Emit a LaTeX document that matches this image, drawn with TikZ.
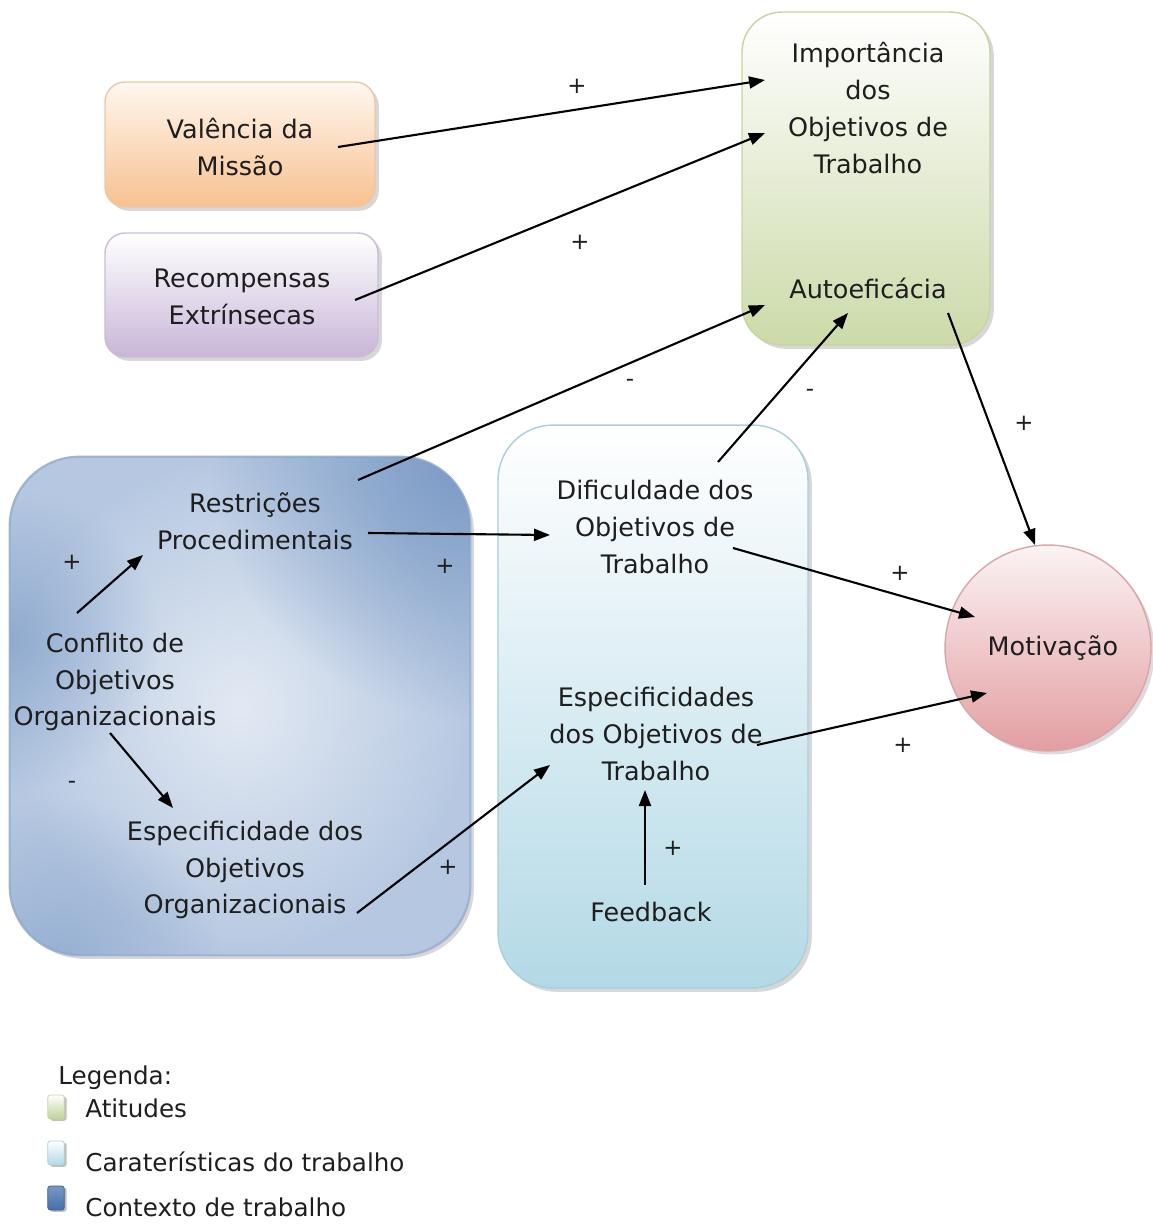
\documentclass[tikz,border=0pt]{standalone}
\usepackage{fontspec}
\setmainfont{DejaVu Sans}
\usetikzlibrary{arrows.meta,shadows,calc,fadings}

\definecolor{txtc}{HTML}{1E1E1E}
\definecolor{orgtop}{HTML}{FFF7F0}
\definecolor{orgbot}{HTML}{F7C18F}
\definecolor{orgline}{HTML}{EDC7A5}
\definecolor{purtop}{HTML}{FFFFFF}
\definecolor{purbot}{HTML}{C8B6D8}
\definecolor{purline}{HTML}{C9BDD6}
\definecolor{grntop}{HTML}{FFFFFF}
\definecolor{grnbot}{HTML}{CCDAA9}
\definecolor{grnline}{HTML}{C6D4A2}
\definecolor{ltbtop}{HTML}{FFFFFF}
\definecolor{ltbbot}{HTML}{B3D9E6}
\definecolor{ltbline}{HTML}{A9CFDA}
\definecolor{dkbin}{HTML}{E2E9F3}
\definecolor{dkbmid}{HTML}{B6C8E1}
\definecolor{dkbout}{HTML}{7898C4}
\definecolor{dkbline}{HTML}{9EB4D2}
\definecolor{pnktop}{HTML}{FBF3F3}
\definecolor{pnkbot}{HTML}{E39EA2}
\definecolor{pnkline}{HTML}{D9A5A8}
\definecolor{legdark}{HTML}{4470AC}
\definecolor{leggrn}{HTML}{BFD293}

\tikzfading[name=softspot,inner color=transparent!0,outer color=transparent!100]

\begin{document}
\begin{tikzpicture}[x=0.02cm,y=-0.02cm,
  txt/.style={align=center,inner sep=0pt,text=txtc,
    font=\fontsize{14.5}{21}\selectfont},
  sign/.style={inner sep=0pt,text=txtc,font=\fontsize{13}{15}\selectfont},
  arr/.style={line width=1.2pt,draw=black,
    -{Triangle[length=3.2mm,width=2.4mm]}},
  shade box/.style={rectangle,line width=0.8pt,
    drop shadow={shadow xshift=2.2pt,shadow yshift=-2.2pt,
      opacity=0.35,fill=black!45}},
  legicon/.style={rectangle,rounded corners=1.5pt,minimum width=0.33cm,
    minimum height=0.48cm,inner sep=0pt,line width=0.4pt,
    drop shadow={shadow xshift=1.4pt,shadow yshift=-1pt,opacity=0.45,fill=black!55}},
  legtxt/.style={anchor=west,inner sep=0pt,text=txtc,
    font=\fontsize{14}{17}\selectfont}]

\useasboundingbox (0,0) rectangle (1153,1231);

% coloured boxes
\node[shade box,rounded corners=0.4cm,draw=orgline,top color=orgtop,
  bottom color=orgbot,minimum width=5.4cm,minimum height=2.5cm]
  (valbox) at (240,144.5) {};
\node[shade box,rounded corners=0.4cm,draw=purline,top color=purtop,
  bottom color=purbot,minimum width=5.46cm,minimum height=2.48cm]
  (recbox) at (241.5,295) {};
\node[shade box,rounded corners=0.8cm,draw=grnline,top color=grntop,
  bottom color=grnbot,minimum width=4.96cm,minimum height=6.66cm]
  (attbox) at (866,178.5) {};
\node[shade box,rounded corners=1.4cm,draw=dkbline,inner color=dkbin,
  outer color=dkbmid,minimum width=9.2cm,minimum height=9.96cm]
  (ctxbox) at (240,706) {};
% darker tint towards the upper right and left edge of the context box
\begin{scope}
  \clip[rounded corners=1.4cm] (ctxbox.south west) rectangle (ctxbox.north east);
  \fill[dkbout,path fading=softspot] (470,457) circle (260);
  \fill[dkbout,path fading=softspot,opacity=0.6] (10,640) circle (150);
  \fill[dkbout,path fading=softspot,opacity=0.5] (60,960) circle (160);
\end{scope}
\draw[dkbline,line width=0.8pt,rounded corners=1.4cm]
  (ctxbox.south west) rectangle (ctxbox.north east);
\node[shade box,rounded corners=1.1cm,draw=ltbline,top color=ltbtop,
  bottom color=ltbbot,minimum width=6.2cm,minimum height=11.26cm]
  (jobbox) at (653,706.5) {};
\node[circle,line width=0.8pt,draw=pnkline,top color=pnktop,
  bottom color=pnkbot,minimum size=4.12cm,inner sep=0pt,
  drop shadow={shadow xshift=2pt,shadow yshift=-2pt,opacity=0.3,fill=black!45}]
  (motbox) at (1048,648) {};

% texts
\node[txt] (val) at (240,147) {Valência da\\Missão};
\node[txt] (rec) at (242,297) {Recompensas\\Extrínsecas};
\node[txt] (imp) at (868,108) {Importância\\dos\\Objetivos de\\Trabalho};
\node[txt] (auto) at (868,288) {Autoeficácia};
\node[txt] (restr) at (255,521) {Restrições\\Procedimentais};
\node[txt] (conf) at (115,682) {Conflito de\\Objetivos\\Organizacionais};
\node[txt] (espo) at (245,870) {Especificidade dos\\Objetivos\\Organizacionais};
\node[txt] (dif) at (655,527) {Dificuldade dos\\Objetivos de\\Trabalho};
\node[txt] (espt) at (656,734) {Especificidades\\dos Objetivos de\\Trabalho};
\node[txt] (feed) at (651,912) {Feedback};
\node[txt] (mot) at (1053,648) {Motivação};

% connectors
\draw[arr] ([shift={(98,0)}]val.center) -- ([shift={(-103,-28)}]imp.center);
\draw[arr] ([shift={(113,3)}]rec.center) -- ([shift={(-103,25)}]imp.center);
\draw[arr] ([shift={(103,-41)}]restr.center) -- ([shift={(-103,17)}]auto.center);
\draw[arr] ([shift={(63,-65)}]dif.center) -- ([shift={(-20,25)}]auto.center);
\draw[arr] ([shift={(80,25)}]auto.center) -- ([shift={(-13,-103)}]motbox.center);
\draw[arr] ([shift={(78,21)}]dif.center) -- ([shift={(-73,-31)}]motbox.center);
\draw[arr] ([shift={(101,11)}]espt.center) -- ([shift={(-61,45)}]motbox.center);
\draw[arr] ([shift={(113,12)}]restr.center) -- ([shift={(-105,8)}]dif.center);
\draw[arr] ([shift={(-38,-69)}]conf.center) -- ([shift={(-112,34)}]restr.center);
\draw[arr] ([shift={(-5,51)}]conf.center) -- ([shift={(-72,-62)}]espo.center);
\draw[arr] ([shift={(112,43)}]espo.center) -- ([shift={(-106,31)}]espt.center);
\draw[arr] ([shift={(-6,-27)}]feed.center) -- ([shift={(-11,56)}]espt.center);

% signs on the connectors
\node[sign] (s1) at (577,86) {+};
\node[sign] (s2) at (580,242) {+};
\node[sign] (s3) at (630,383) {-};
\node[sign] (s4) at (810,393) {-};
\node[sign] (s5) at (1024,423) {+};
\node[sign] (s6) at (72,562) {+};
\node[sign] (s7) at (445,566) {+};
\node[sign] (s8) at (72,785) {-};
\node[sign] (s9) at (448,867) {+};
\node[sign] (s10) at (673,848) {+};
\node[sign] (s11) at (900,573) {+};
\node[sign] (s12) at (903,745) {+};

% legend
\node[legtxt] (leg) at (58,1078) {Legenda:};
\node[legicon,draw=grnline,top color=white,bottom color=leggrn]
  (lg1) at (56,1107) {};
\node[legicon,draw=ltbline,top color=white,bottom color=ltbbot]
  (lg2) at (56,1153) {};
\node[legicon,draw=legdark!80!black,top color=dkbout,bottom color=legdark]
  (lg3) at (56,1198) {};
\node[legtxt] (lt1) at (85,1108) {Atitudes};
\node[legtxt] (lt2) at (85,1162) {Caraterísticas do trabalho};
\node[legtxt] (lt3) at (85,1207) {Contexto de trabalho};

\end{tikzpicture}
\end{document}
